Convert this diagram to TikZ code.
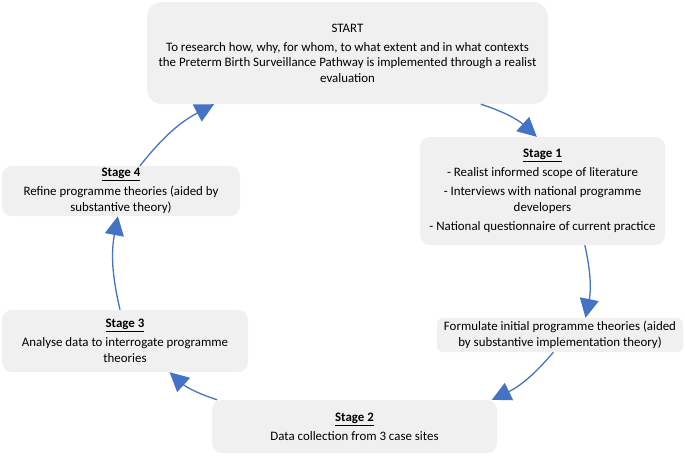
\documentclass[tikz,border=0pt]{standalone}
\usepackage{fontspec}
\setmainfont{Carlito}
\usepackage{xcolor}
\usetikzlibrary{arrows.meta}
\definecolor{boxgray}{HTML}{F0F0F0}
\definecolor{cycleblue}{HTML}{4472C4}

\begin{document}
\begin{tikzpicture}[x=1pt,y=-1pt,
  box/.style={fill=boxgray, rounded corners=10pt, align=center, inner sep=0pt,
    font=\fontsize{12.9}{15.5}\selectfont},
  flow/.style={draw=cycleblue, line width=1.3pt, -{Triangle[length=19pt,width=19pt]}, bend left=12}]
	\useasboundingbox (0,0) rectangle (685,456);
	\def\gap{3.5pt}

	\node[box, minimum width=401pt, minimum height=102pt, rounded corners=15pt] (start) at (347.5,53)
		{START\\[\gap]To research how, why, for whom, to what extent and in what contexts\\
		 the Preterm Birth Surveillance Pathway is implemented through a realist\\evaluation};
	\node[box, minimum width=245pt, minimum height=108pt] (s1) at (542.5,191)
		{\underline{\textbf{Stage 1}}\\[\gap]- Realist informed scope of literature\\[\gap]
		 - Interviews with national programme\\developers\\[\gap]- National questionnaire of current practice};
	\node[box, minimum width=246pt, minimum height=34pt, rounded corners=6pt] (form) at (560,335)
		{Formulate initial programme theories (aided\\by substantive implementation theory)};
	\node[box, minimum width=285pt, minimum height=53pt] (s2) at (354.5,426.5)
		{\underline{\textbf{Stage 2}}\\[\gap]Data collection from 3 case sites};
	\node[box, minimum width=246pt, minimum height=62pt] (s3) at (125,341)
		{\underline{\textbf{Stage 3}}\\[\gap]Analyse data to interrogate programme\\theories};
	\node[box, minimum width=238pt, minimum height=50pt] (s4) at (121,191)
		{\underline{\textbf{Stage 4}}\\[\gap]Refine programme theories (aided by\\substantive theory)};

	\draw[flow] (start.-21) to (s1.96);
	\draw[flow] (s1.-52) to (form.34);
	\draw[flow] (form.-111) to (s2.11);
	\draw[flow] (s2.169) to (s3.-35);
	\draw[flow] (s3.99) to (s4.-97);
	\draw[flow] (s4.53) to (start.-159);
\end{tikzpicture}
\end{document}
